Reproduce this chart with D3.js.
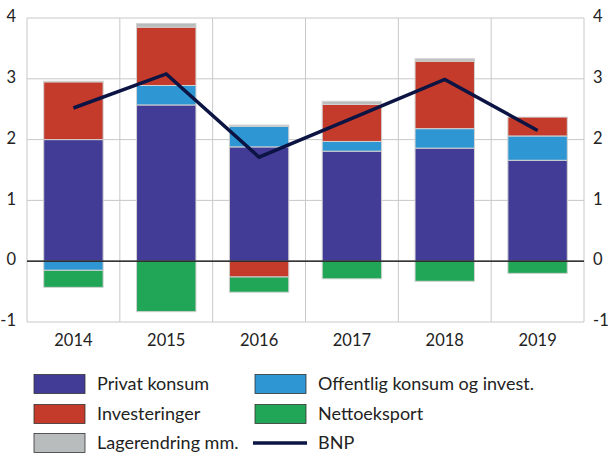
<!DOCTYPE html>
<html><head><meta charset="utf-8">
<script src="https://cdn.jsdelivr.net/npm/d3@7"></script>
<style>body{margin:0;background:#fff}svg{display:block;font-family:Lato,"Open Sans",sans-serif}</style>
</head><body><svg id="c" width="608" height="453"></svg>
<script>
const years = ["2014","2015","2016","2017","2018","2019"];
const privatKonsum = [2.00, 2.57, 1.88, 1.81, 1.86, 1.66];
const offentlig = [-0.15, 0.32, 0.34, 0.16, 0.32, 0.40];
const investeringer = [0.95, 0.96, -0.26, 0.61, 1.11, 0.31];
const lagerendring = [0.01, 0.06, 0.02, 0.05, 0.04, 0.0];
const nettoeksport = [-0.28, -0.83, -0.25, -0.29, -0.33, -0.20];
const bnp = [2.52, 3.08, 1.71, 2.35, 2.99, 2.15];
const yTicks = [-1, 0, 1, 2, 3, 4];

const seriesNames = ["Privat konsum","Offentlig konsum og invest.","Investeringer","Lagerendring mm.","Nettoeksport"];
const seriesData = [privatKonsum, offentlig, investeringer, lagerendring, nettoeksport];
const colors = ["#433C96","#2E96D2","#C43B2B","#B9BCBC","#21A556"];
const bnpColor = "#0B1443";

const svg = d3.select("#c");
const L = 27, R = 584, T = 18, B = 322;
const x = d3.scaleBand().domain(years).range([L, R]).paddingInner(0.36).paddingOuter(0.18);
const xb = d3.scaleBand().domain(years).range([L, R]);
const y = d3.scaleLinear().domain([-1, 4]).range([B, T]);

// grid
const g = svg.append("g");
g.selectAll(".h").data(yTicks).join("line")
  .attr("x1", L).attr("x2", R).attr("y1", d => y(d)).attr("y2", d => y(d))
  .attr("stroke", "#c8c8c8").attr("stroke-width", 1);
const vlines = years.map(d => xb(d)).concat([R]);
g.selectAll(".v").data(vlines).join("line")
  .attr("x1", d => d).attr("x2", d => d).attr("y1", T).attr("y2", B)
  .attr("stroke", "#c8c8c8").attr("stroke-width", 1);

// stacked bars
const table = years.map((yr, i) => {
  const o = {year: yr};
  seriesNames.forEach((s, j) => o[s] = seriesData[j][i]);
  return o;
});
const stack = d3.stack().keys(seriesNames).offset(d3.stackOffsetDiverging)(table);
svg.append("g").selectAll("g").data(stack).join("g")
  .attr("fill", (d, i) => colors[i])
  .selectAll("rect").data(d => d).join("rect")
  .attr("x", d => x(d.data.year)).attr("width", x.bandwidth())
  .attr("y", d => y(Math.max(d[0], d[1])))
  .attr("height", d => Math.abs(y(d[0]) - y(d[1])))
  .attr("stroke", "#d2d2d2").attr("stroke-width", 1);

// zero line
svg.append("line").attr("x1", L).attr("x2", R).attr("y1", y(0)).attr("y2", y(0))
  .attr("stroke", "#000").attr("stroke-width", 1.3);

// BNP line
const line = d3.line().x((d, i) => xb(years[i]) + xb.bandwidth() / 2).y(d => y(d));
svg.append("path").datum(bnp).attr("d", line).attr("fill", "none")
  .attr("stroke", bnpColor).attr("stroke-width", 3.5).attr("stroke-linejoin", "miter");

// axes
const fmt = d => String(d);
const la = svg.append("g").attr("transform", `translate(${L - 8},-1.5)`)
  .call(d3.axisLeft(y).tickValues(yTicks).tickSize(0).tickFormat(fmt));
const ra = svg.append("g").attr("transform", `translate(${R + 6},-1.5)`)
  .call(d3.axisRight(y).tickValues(yTicks).tickSize(0).tickFormat(fmt));
const ba = svg.append("g").attr("transform", `translate(0,${B + 9})`)
  .call(d3.axisBottom(xb).tickSize(0));
[la, ra, ba].forEach(a => {
  a.select(".domain").remove();
  a.selectAll("text").attr("font-size", 16.5).attr("fill", "#222").attr("font-family", "Lato,'Open Sans',sans-serif");
});

// legend
const legendItems = [
  {name: "Privat konsum", color: colors[0], col: 0, row: 0},
  {name: "Offentlig konsum og invest.", color: colors[1], col: 1, row: 0},
  {name: "Investeringer", color: colors[2], col: 0, row: 1},
  {name: "Nettoeksport", color: colors[4], col: 1, row: 1},
  {name: "Lagerendring mm.", color: colors[3], col: 0, row: 2},
  {name: "BNP", color: bnpColor, col: 1, row: 2, line: true}
];
const colX = [34, 255], rowY = [384, 414, 443];
const lg = svg.append("g").selectAll("g").data(legendItems).join("g")
  .attr("transform", d => `translate(${colX[d.col]},${rowY[d.row]})`);
lg.filter(d => !d.line).append("rect")
  .attr("x", 0).attr("y", -9.5).attr("width", 51).attr("height", 19)
  .attr("fill", d => d.color).attr("stroke", "#333").attr("stroke-width", 0.8);
lg.filter(d => d.line).append("line")
  .attr("x1", -2).attr("x2", 52).attr("y1", 0).attr("y2", 0)
  .attr("stroke", d => d.color).attr("stroke-width", 3.5);
lg.append("text").attr("x", 63).attr("y", 0).attr("dy", "0.35em")
  .attr("font-size", 18).attr("fill", "#222").text(d => d.name);
</script></body></html>
